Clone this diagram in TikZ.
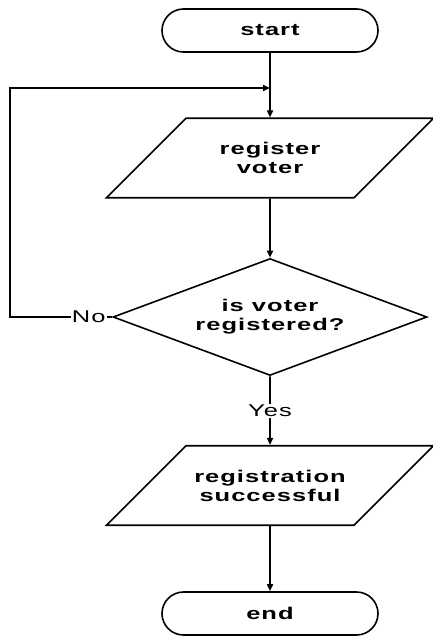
\documentclass[tikz,border=0pt]{standalone}
\usepackage{fontspec}
\setmainfont{Liberation Sans}
\newfontfamily\chartfont[FakeStretch=1.5, LetterSpace=6]{Liberation Sans}
\newfontfamily\chartbold[FakeStretch=1.5, LetterSpace=6]{Liberation Sans Bold}
\usetikzlibrary{shapes.geometric,shapes.misc,arrows.meta}

\tikzset{
  terminal/.style={draw, rounded rectangle, minimum width=216pt,
    minimum height=43pt, inner sep=0pt,
    font=\chartbold\fontsize{17}{19}\selectfont},
  io/.style={draw, trapezium, trapezium left angle=45,
    trapezium right angle=135, text width=160pt, inner xsep=4pt,
    inner ysep=24pt, align=center,
    font=\chartbold\fontsize{17}{19}\selectfont},
  decision/.style={draw, diamond, aspect=2.7, minimum width=314pt,
    minimum height=117pt, inner sep=0pt, align=center,
    font=\chartbold\fontsize{17}{19}\selectfont},
  answer/.style={fill=white, inner sep=1pt,
    font=\chartfont\fontsize{17}{19}\selectfont},
  flow/.style={-{Triangle[length=7pt,width=6pt]}}
}

\begin{document}
\begin{tikzpicture}[x=1pt, y=-1pt, line width=1.6pt]
  \useasboundingbox (0,0) rectangle (432,640);
  % Blocks of the flow, top to bottom.
  \node[terminal] (start) at (270,30.5) {start};
  \node[io] (register) at (270,158) {register\\voter};
  \node[decision] (check) at (270,317) {is voter\\registered?};
  \node[io] (success) at (270,485.5) {registration\\successful};
  \node[terminal] (stop) at (270,613.5) {end};
  % Points of the loop back.
  \coordinate (join) at (270,88);
  \coordinate (loopbottom) at (10,317);
  \coordinate (looptop) at (10,88);
  % Connectors.
  \draw[flow] (start) -- (register);
  \draw[flow] (register) -- (check);
  \draw[flow] (check) -- node[answer] {Yes} (success);
  \draw[flow] (success) -- (stop);
  \draw[flow] (check.west) -- node[answer, pos=0.23] {No} (loopbottom)
    -- (looptop) -- (join);
\end{tikzpicture}
\end{document}
